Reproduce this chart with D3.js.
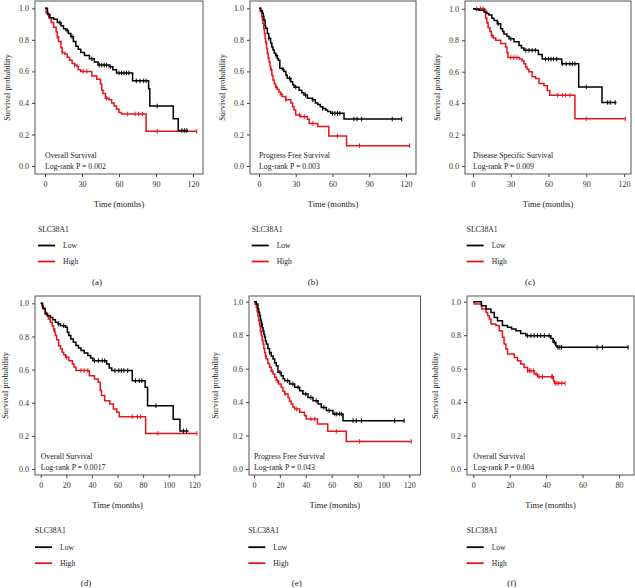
<!DOCTYPE html>
<html>
<head>
<meta charset="utf-8">
<script src="https://cdn.jsdelivr.net/npm/d3@7"></script>
<style>
  body { margin: 0; background: #fff; }
  svg text { font-family: "Liberation Serif", "DejaVu Serif", serif; }
</style>
</head>
<body>
<svg id="chart" width="635" height="588"></svg>
<script>
// KM step points [time, survival], plus censor times

// (a) overall survival
var aLow = [[0,1],[2,0.96],[4,0.94],[7,0.93],[10,0.91],[13,0.89],[15,0.87],[17,0.86],[19,0.84],[21,0.82],[23,0.79],[25,0.76],[27,0.74],[29,0.72],[32,0.70],[36,0.68],[40,0.66],[43,0.64],[52,0.63],[55,0.61],[58,0.59],[71,0.54],[84,0.49],[85,0.38],[104,0.30],[108,0.225],[116,0.225]];
var aLowCens = [12,18,22,38,44,46,48,50,53,60,62,64,66,68,74,77,80,82,91,111,113,115];
var aHigh = [[0,1],[1,0.97],[3,0.94],[5,0.91],[7,0.88],[9,0.85],[10,0.82],[11,0.79],[13,0.75],[14,0.72],[16,0.71],[18,0.69],[20,0.67],[22,0.65],[24,0.64],[26,0.63],[27,0.61],[29,0.60],[38,0.57],[42,0.55],[45,0.52],[46,0.48],[47,0.46],[49,0.43],[52,0.42],[54,0.40],[56,0.38],[58,0.36],[60,0.34],[62,0.33],[82,0.22],[123,0.22]];
var aHighCens = [10,14,24,31,34,50,67,73,76,79,91,123];

// (b) progress free survival
var bLow = [[0,1],[1.5,0.985],[2.7,0.97],[3.5,0.95],[4,0.926],[5,0.89],[5.4,0.873],[6.8,0.84],[8,0.81],[9.5,0.78],[10.5,0.755],[11.4,0.735],[12.5,0.715],[13.6,0.70],[15,0.68],[15.8,0.67],[17,0.62],[19,0.61],[20.4,0.60],[22,0.575],[23,0.556],[26,0.535],[27.5,0.515],[28.6,0.50],[32.7,0.48],[35,0.465],[36.7,0.45],[39.5,0.43],[43.5,0.42],[46,0.40],[48,0.39],[50,0.375],[52,0.365],[54.4,0.355],[56,0.345],[58.5,0.334],[69.4,0.298],[116.5,0.298]];
var bLowCens = [8,14,20,25,30,38,44,52,60,62,64,66,77.5,80,83.8,108.8,116.5];
var bHigh = [[0,1],[1,0.98],[2.2,0.947],[2.8,0.925],[3.3,0.905],[3.9,0.87],[4.4,0.84],[5,0.81],[5.4,0.78],[6.2,0.745],[6.8,0.715],[7.5,0.685],[8.2,0.66],[9,0.63],[9.5,0.61],[10.5,0.575],[11.4,0.545],[12.5,0.52],[13.6,0.50],[15,0.485],[16.3,0.47],[17.5,0.455],[19,0.44],[21.8,0.42],[26,0.40],[27.5,0.375],[28.6,0.355],[30,0.323],[34,0.313],[39.5,0.296],[41,0.27],[48,0.25],[57,0.19],[71.5,0.129],[123,0.129]];
var bHighCens = [6,10,14,18,22,33,37,44,64,82,123];

// (c) disease specific survival
var cLow = [[0,1],[2,0.995],[4.8,0.99],[8.7,0.98],[11,0.97],[12.7,0.96],[15,0.94],[16.7,0.926],[19.3,0.905],[22,0.873],[23.5,0.855],[24.6,0.84],[27,0.825],[28.6,0.81],[32.6,0.79],[36.6,0.767],[38.5,0.75],[40.5,0.736],[52,0.71],[55,0.68],[70.5,0.65],[84,0.503],[102.5,0.404],[114,0.404]];
var cLowCens = [20,30,42,44.5,47,49.5,57.6,60,62,64,66.5,71,74,77,79,81,90,107,109,113];
var cHigh = [[0,1],[9.3,0.99],[10,0.94],[11,0.91],[12,0.88],[13.5,0.855],[14.6,0.83],[16,0.815],[18,0.80],[22,0.78],[25.9,0.757],[27,0.72],[27.8,0.69],[37,0.68],[39,0.67],[40.5,0.65],[41.8,0.63],[43,0.615],[44.4,0.60],[47,0.567],[49.8,0.556],[52.5,0.525],[56.4,0.51],[59,0.48],[61,0.45],[81,0.30],[121,0.30]];
var cHighCens = [3,6,8,15,30,32.5,35,67,71,73.5,77,90,121];

// (d) overall survival, second cohort
var dLow = [[0,1],[1.5,0.97],[3.5,0.935],[5.5,0.925],[7.5,0.915],[9.5,0.90],[11.5,0.885],[13.5,0.875],[15.5,0.865],[19.5,0.855],[20.8,0.825],[22,0.805],[23.5,0.785],[25.5,0.765],[27.5,0.745],[29.5,0.73],[31.5,0.715],[34,0.70],[36.8,0.685],[39,0.67],[40.8,0.654],[51.5,0.634],[53.5,0.61],[55.5,0.594],[71.5,0.533],[81.6,0.493],[83.5,0.382],[103.5,0.30],[108.8,0.23],[115.5,0.23]];
var dLowCens = [14,18,42,45,48,50,58,61,63,65,68,74,77,79,90,111.5,114];
var dHigh = [[0,1],[1,0.985],[2,0.966],[3.5,0.945],[4.8,0.925],[6,0.905],[7.5,0.885],[9,0.865],[10,0.845],[11,0.825],[11.5,0.805],[12.5,0.78],[14,0.744],[15.5,0.725],[16.8,0.704],[18,0.69],[19.5,0.674],[22,0.654],[24.8,0.634],[26,0.615],[27.5,0.594],[38,0.563],[42,0.543],[45,0.523],[46.5,0.473],[47.5,0.443],[50,0.412],[54,0.392],[56.8,0.362],[59.5,0.342],[61.3,0.316],[82,0.215],[122,0.215]];
var dHighCens = [10,20,31.5,34,36.8,71.5,75.5,78,91.5,122];

// (e) progress free survival, second cohort
var eLow = [[0,1],[1.8,0.986],[3,0.956],[3.7,0.935],[4.4,0.916],[5,0.89],[5.7,0.866],[6.3,0.845],[7,0.827],[7.6,0.805],[8.2,0.787],[8.8,0.765],[9.5,0.747],[10.7,0.72],[12,0.697],[13.3,0.675],[14.7,0.657],[16,0.635],[17.2,0.617],[18.5,0.578],[21,0.558],[22.5,0.54],[23.7,0.528],[27.5,0.508],[31.4,0.488],[35.3,0.468],[37.8,0.448],[41.7,0.428],[45.6,0.408],[49.5,0.388],[52,0.368],[55.9,0.349],[61,0.329],[68.8,0.289],[116,0.289]];
var eLowCens = [6,12,20,26,30,34,40,44,48,54,58,62.5,64,66,67.5,76.5,79,83,108.7,116];
var eHigh = [[0,1],[1,0.985],[1.8,0.966],[2.4,0.94],[3,0.916],[3.7,0.885],[4.4,0.857],[5,0.825],[5.7,0.797],[6.3,0.77],[7,0.747],[7.6,0.72],[8.2,0.697],[8.8,0.675],[9.5,0.657],[10.7,0.63],[12,0.608],[13.3,0.585],[14.7,0.568],[16,0.548],[17.2,0.528],[19,0.508],[21,0.488],[22.3,0.465],[23.7,0.448],[26.3,0.428],[27.5,0.405],[28.8,0.388],[30,0.37],[31.4,0.358],[35.3,0.339],[39,0.319],[40.4,0.299],[49,0.269],[57,0.225],[71.3,0.165],[121.5,0.165]];
var eHighCens = [5,9,14,18,24,33,44,47,63.6,81.6,121.5];

// (f) overall survival, third cohort
var fLow = [[0,1],[4.4,0.976],[7,0.956],[9.7,0.936],[11.5,0.906],[13.3,0.886],[16,0.857],[18.8,0.847],[21,0.837],[23.4,0.827],[26,0.81],[28.9,0.797],[42.6,0.78],[43.8,0.757],[45.3,0.737],[46,0.727],[85,0.727]];
var fLowCens = [29.8,31.6,33.4,35.2,37,39,41.6,44.5,46.5,47.5,48.5,68,70.9,85];
var fHigh = [[0,1],[0.5,0.986],[4.7,0.956],[7,0.936],[7.9,0.916],[8.8,0.896],[9.7,0.866],[12.4,0.857],[14.2,0.827],[16,0.787],[16.9,0.747],[17.9,0.717],[18.8,0.687],[22.5,0.667],[24.3,0.647],[26.1,0.627],[27.9,0.607],[29.8,0.588],[33.4,0.568],[35.3,0.552],[44,0.528],[44.6,0.512],[50.4,0.512]];
var fHighCens = [29.8,30.8,31.6,33,34.5,36,38,43,43.5,45,46,47,48.5,50.4];

var yTicks = [0,0.2,0.4,0.6,0.8,1.0];
var xTicks30 = [0,30,60,90,120];
var xTicks20 = [0,20,40,60,80,100,120];
var xTicksF = [0,20,40,60,80];
var groupName = "SLC38A1";
var groupLabels = ["Low","High"];
var groupColors = ["#000000","#e8141c"];

var panels = [
  {tag:"(a)", title:"Overall Survival", pval:"Log-rank P = 0.002", low:aLow, lowC:aLowCens, high:aHigh, highC:aHighCens,
   xt:xTicks30, xd:[0,120], box:[35,1,203,174], xr:[45,193], yr:[166,8.3], ylab:7.5, leg:[38,229], lab:[97,282]},
  {tag:"(b)", title:"Progress Free Survival", pval:"Log-rank P = 0.003", low:bLow, lowC:bLowCens, high:bHigh, highC:bHighCens,
   xt:xTicks30, xd:[0,120], box:[250,1,416,174], xr:[259,406], yr:[166,8.3], ylab:221.7, leg:[251.7,229], lab:[313,282]},
  {tag:"(c)", title:"Disease Specific Survival", pval:"Log-rank P = 0.009", low:cLow, lowC:cLowCens, high:cHigh, highC:cHighCens,
   xt:xTicks30, xd:[0,120], box:[465,1,631,174], xr:[473,624], yr:[166,8.8], ylab:436.7, leg:[466.7,229], lab:[530,282]},
  {tag:"(d)", title:"Overall Survival", pval:"Log-rank P = 0.0017", low:dLow, lowC:dLowCens, high:dHigh, highC:dHighCens,
   xt:xTicks20, xd:[0,120], box:[35,296,200,475], xr:[40.7,194.3], yr:[469,303.3], ylab:5.5, leg:[35,530.7], lab:[86,583]},
  {tag:"(e)", title:"Progress Free Survival", pval:"Log-rank P = 0.043", low:eLow, lowC:eLowCens, high:eHigh, highC:eHighCens,
   xt:xTicks20, xd:[0,120], box:[249,296,420.5,475], xr:[254,409.3], yr:[469,301.7], ylab:215, leg:[248.3,530.7], lab:[296.7,583]},
  {tag:"(f)", title:"Overall Survival", pval:"Log-rank P = 0.004", low:fLow, lowC:fLowCens, high:fHigh, highC:fHighCens,
   xt:xTicksF, xd:[0,80], box:[467,296,634,475], xr:[473.3,619], yr:[469,301.7], ylab:435, leg:[466.7,530.7], lab:[511.7,583]}
];

var svg = d3.select("#chart");

// survival value at time t from a step list
function survAt(steps, t) {
  var s = steps[0][1];
  for (var i = 0; i < steps.length; i++) {
    if (steps[i][0] <= t) s = steps[i][1];
  }
  return s;
}

function drawPanel(p) {
  var g = svg.append("g");
  var x = d3.scaleLinear().domain(p.xd).range(p.xr);
  var y = d3.scaleLinear().domain([0,1]).range(p.yr);
  var b = p.box;

  var line = d3.line()
    .x(function(d){ return x(d[0]); })
    .y(function(d){ return y(d[1]); })
    .curve(d3.curveStepAfter);

  // axes
  var yAx = g.append("g").attr("transform","translate(" + b[0] + ",0)")
    .call(d3.axisLeft(y).tickValues(yTicks).tickFormat(d3.format(".1f")).tickSize(3).tickPadding(3));
  var xAx = g.append("g").attr("transform","translate(0," + b[3] + ")")
    .call(d3.axisBottom(x).tickValues(p.xt).tickSize(3).tickPadding(4));
  [yAx, xAx].forEach(function(a){
    a.select(".domain").remove();
    a.selectAll(".tick line").attr("stroke","#444");
    a.selectAll("text").attr("fill","#333").style("font-size","8px");
  });

  // curves, High drawn first so Low sits above like the figure
  var series = [
    {steps:p.high, cens:p.highC, col:groupColors[1]},
    {steps:p.low, cens:p.lowC, col:groupColors[0]}
  ];
  series.forEach(function(s){
    g.append("path").datum(s.steps)
      .attr("d", line)
      .attr("fill","none")
      .attr("stroke", s.col)
      .attr("stroke-width",1.5);
    g.selectAll(null).data(s.cens).enter().append("line")
      .attr("x1", function(d){ return x(d); })
      .attr("x2", function(d){ return x(d); })
      .attr("y1", function(d){ return y(survAt(s.steps,d)) - 2.3; })
      .attr("y2", function(d){ return y(survAt(s.steps,d)) + 2.3; })
      .attr("stroke", s.col)
      .attr("stroke-width",1);
  });

  // panel border
  g.append("rect")
    .attr("x", b[0]).attr("y", b[1])
    .attr("width", b[2]-b[0]).attr("height", b[3]-b[1])
    .attr("fill","none").attr("stroke","#555").attr("stroke-width",1);

  // annotation inside
  g.append("text").attr("x", x(0)).attr("y", b[3]-16)
    .attr("fill","#222").style("font-size","7.8px").text(p.title);
  g.append("text").attr("x", x(0)).attr("y", b[3]-5.5)
    .attr("fill","#222").style("font-size","7.8px").text(p.pval);

  // axis titles
  g.append("text")
    .attr("transform","translate(" + p.ylab + "," + ((b[1]+b[3])/2) + ") rotate(-90)")
    .attr("text-anchor","middle").attr("dy","0.35em")
    .attr("fill","#222").style("font-size","8.3px").text("Survival probability");
  g.append("text")
    .attr("x", (b[0]+b[2])/2).attr("y", b[3]+33)
    .attr("text-anchor","middle")
    .attr("fill","#222").style("font-size","8.5px").text("Time (months)");

  // legend
  var lx = p.leg[0], ly = p.leg[1];
  g.append("text").attr("x", lx).attr("y", ly).attr("dy","0.35em")
    .attr("fill","#222").style("font-size","7.6px").text(groupName);
  groupLabels.forEach(function(name, i){
    var yy = ly + 16.5 + i*16;
    g.append("line").attr("x1", lx).attr("x2", lx+17).attr("y1", yy).attr("y2", yy)
      .attr("stroke", groupColors[i]).attr("stroke-width",1.8);
    g.append("text").attr("x", lx+25).attr("y", yy).attr("dy","0.35em")
      .attr("fill","#222").style("font-size","7.6px").text(name);
  });

  // sub-figure tag
  g.append("text").attr("x", p.lab[0]).attr("y", p.lab[1]).attr("dy","0.35em")
    .attr("text-anchor","middle")
    .attr("fill","#222").style("font-size","9px").text(p.tag);
}

panels.forEach(drawPanel);
</script>
</body>
</html>
